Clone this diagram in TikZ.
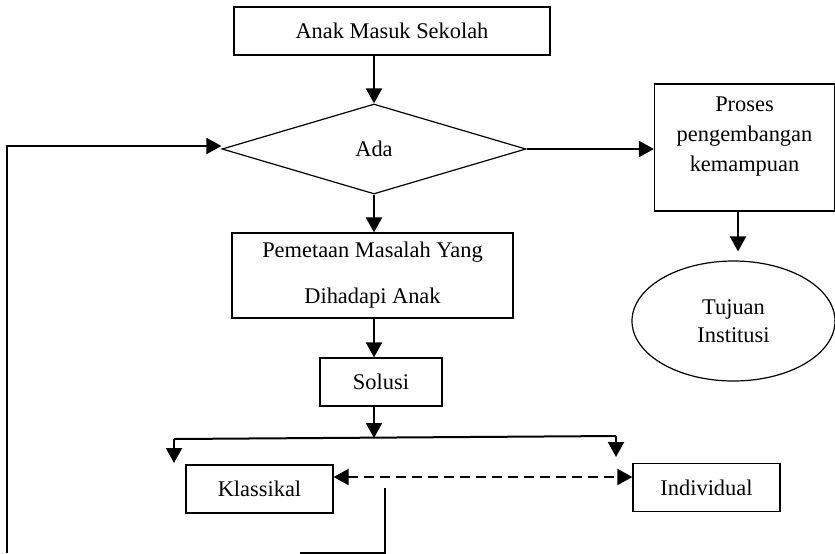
\documentclass[tikz,border=0pt]{standalone}
\usepackage{fontspec}
\setmainfont{Liberation Serif}
\usetikzlibrary{shapes.geometric, arrows.meta}
\usetikzlibrary{positioning}
\usetikzlibrary{calc}

\begin{document}
\begin{tikzpicture}[
                x=0.5pt, y=-0.5pt,
                every node/.style={draw, line width=0.6pt, align=center, inner sep=0pt, font=\fontsize{11.2}{15}\selectfont},
                box/.style={rectangle},
                decision/.style={diamond, minimum width=152pt, minimum height=45pt},
                goal/.style={ellipse, minimum width=101.5pt, minimum height=60pt, font=\fontsize{11.2}{14}\selectfont},
                arr/.style={line width=1pt, -{Triangle[length=7.5pt,width=8pt]}},
                link/.style={line width=1pt}
            ]
            \useasboundingbox (0,0) rectangle (835,553);

            % Define nodes
            \node[box, minimum width=158pt, minimum height=24pt] (start) at (392,31) {Anak Masuk Sekolah};
            \node[decision] (dec) at (374,149) {Ada};
            \node[box, minimum width=90pt, minimum height=63.5pt, text depth=13pt] (proses) at (744.5,147.5) {Proses\\pengembangan\\kemampuan};
            \node[goal] (tujuan) at (733.5,321) {Tujuan\\Institusi};
            \node[box, minimum width=140.5pt, minimum height=42.5pt, font=\fontsize{11.2}{23}\selectfont] (map) at (372.5,275.5) {Pemetaan Masalah Yang\\Dihadapi Anak};
            \node[box, minimum width=61pt, minimum height=24pt] (solusi) at (381,382) {Solusi};
            \node[box, minimum width=73.5pt, minimum height=24pt] (klas) at (259.5,489) {Klassikal};
            \node[box, minimum width=73.5pt, minimum height=24pt] (indiv) at (706.5,487.5) {Individual};

            % Branch and loop points
            \coordinate (split) at (374,438);
            \coordinate (brL) at (174,439);
            \coordinate (brR) at (616,436);
            \coordinate (fbtop) at (385,488);
            \coordinate (fbbot) at (385,553);
            \coordinate (fbend) at (300,553);
            \coordinate (loopbot) at (7,553);

            % Arrows connecting boxes
            \draw[arr] (start.south -| dec.north) -- (dec.north);
            \draw[arr] (dec.east) -- (dec.east -| proses.west);
            \draw[arr, shorten >=4.5pt] (proses.south -| 738,0) -- (tujuan.north -| 738,0);
            \draw[arr] (dec.south) -- (map.north -| dec.south);
            \draw[arr] (map.south -| dec.south) -- (solusi.north -| dec.south);
            \draw[arr] (solusi.south -| split) -- (split);

            % Split to both kinds
            \draw[link] (brL) -- (brR);
            \draw[arr] (brL) -- ++(0,24);
            \draw[arr] (brR) -- ++(0,21);
            \draw[arr, {Triangle[length=7.5pt,width=8pt]}-{Triangle[length=7.5pt,width=8pt]}, dashed, dash pattern=on 5pt off 3pt]
            ([yshift=6pt]klas.east) -- ([yshift=6pt]klas.east -| indiv.west);

            % Loop back to the decision
            \draw[link] (fbtop) -- (fbbot) -- (fbend);
            \draw[arr] (loopbot) -- (loopbot |- 0,146) -- (dec.west |- 0,146);

        \end{tikzpicture}
\end{document}
